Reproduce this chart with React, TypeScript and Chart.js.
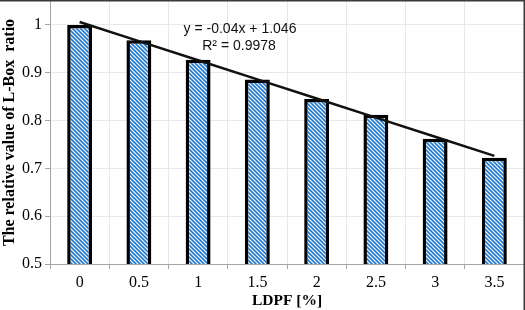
import React, { useEffect, useRef } from "react";
import { Chart, registerables } from "chart.js";

Chart.register(...registerables);

const categories = ["0", "0.5", "1", "1.5", "2", "2.5", "3", "3.5"];
const ratioValues = [1.0, 0.968, 0.927, 0.886, 0.845, 0.812, 0.762, 0.722];
const trendValues = [1.006, 0.966, 0.926, 0.886, 0.846, 0.806, 0.766, 0.726];
const equationText = "y = -0.04x + 1.046";
const r2Text = "R² = 0.9978";
const yTitle = "The relative value of L-Box  ratio";
const xTitle = "LDPF [%]";

function makePattern(): CanvasPattern | string {
  const c = document.createElement("canvas");
  c.width = 4;
  c.height = 4;
  const g = c.getContext("2d");
  if (!g) return "#1f78d1";
  g.fillStyle = "#ffffff";
  g.fillRect(0, 0, 4, 4);
  g.strokeStyle = "#1f78d1";
  g.lineWidth = 1.6;
  g.beginPath();
  g.moveTo(-1, -1);
  g.lineTo(5, 5);
  g.moveTo(-3, 1);
  g.lineTo(1, 5);
  g.moveTo(3, -1);
  g.lineTo(5, 1);
  g.stroke();
  const p = g.createPattern(c, "repeat");
  return p || "#1f78d1";
}

export default function App() {
  const ref = useRef<HTMLCanvasElement | null>(null);
  useEffect(() => {
    if (!ref.current) return;
    const pattern = makePattern();
    const annot = {
      id: "annot",
      afterDatasetsDraw(chart: any) {
        const { ctx } = chart;
        ctx.save();
        ctx.fillStyle = "#111";
        ctx.font = "14px 'Liberation Sans', Arial, sans-serif";
        ctx.textAlign = "center";
        ctx.textBaseline = "alphabetic";
        ctx.fillText(equationText, 240, 33);
        ctx.fillText(r2Text, 239, 50);
        ctx.restore();
      },
      afterDraw(chart: any) {
        const { ctx, width } = chart;
        ctx.save();
        ctx.strokeStyle = "#3a3a3a";
        ctx.lineWidth = 1.5;
        ctx.beginPath();
        ctx.moveTo(0, 0.75);
        ctx.lineTo(width - 0.75, 0.75);
        ctx.lineTo(width - 0.75, chart.height);
        ctx.stroke();
        ctx.restore();
      },
    };
    const chart = new Chart(ref.current, {
      type: "bar",
      data: {
        labels: categories,
        datasets: [
          {
            type: "line",
            data: trendValues,
            borderColor: "#111",
            borderWidth: 2.5,
            pointRadius: 0,
            fill: false,
            order: 0,
          } as any,
          {
            type: "bar",
            data: ratioValues,
            backgroundColor: pattern as any,
            borderColor: "#000",
            borderWidth: 3.5,
            borderSkipped: false,
            barPercentage: 0.42,
            categoryPercentage: 1,
            order: 1,
          } as any,
        ],
      },
      options: {
        responsive: false,
        animation: false,
        layout: { padding: { top: 1, right: 1, left: 0, bottom: 0 } },
        plugins: { legend: { display: false }, tooltip: { enabled: false } },
        scales: {
          x: {
            grid: {
              offset: true,
              color: "#e8e8e8",
              tickColor: "#a6a6a6",
              tickLength: 5,
            },
            border: { color: "#a6a6a6" },
            ticks: {
              color: "#000",
              padding: 4,
              font: { family: "'Liberation Serif', 'Times New Roman', serif", size: 16 },
            },
            title: {
              display: true,
              text: xTitle,
              color: "#000",
              padding: { top: 0, bottom: 0 },
              font: { family: "'Liberation Serif', 'Times New Roman', serif", size: 15.5, weight: "bold" },
            },
            afterFit(scale: any) {
              scale.height = 46;
            },
          },
          y: {
            min: 0.5,
            max: 1.05,
            grid: { color: "#e8e8e8", tickColor: "#a6a6a6", tickLength: 5 },
            border: { color: "#a6a6a6" },
            ticks: {
              stepSize: 0.1,
              color: "#000",
              padding: 3,
              font: { family: "'Liberation Serif', 'Times New Roman', serif", size: 16 },
              callback: (v: any) => String(Number(Number(v).toFixed(2))),
            },
            afterBuildTicks(scale: any) {
              scale.ticks = scale.ticks.filter((t: any) => t.value <= 1.0001);
            },
            title: {
              display: true,
              text: yTitle,
              color: "#000",
              padding: { top: 0, bottom: 0 },
              font: { family: "'Liberation Serif', 'Times New Roman', serif", size: 16, weight: "bold" },
            },
            afterFit(scale: any) {
              scale.width = 50;
              scale.paddingTop = 0;
              scale.paddingBottom = 0;
            },
          },
        },
      },
      plugins: [annot],
    });
    return () => chart.destroy();
  }, []);
  return (
    <div style={{ position: "fixed", left: 0, top: 0, width: 525, height: 310, background: "#fff" }}>
      <canvas ref={ref} width={525} height={310} style={{ display: "block" }} />
    </div>
  );
}
